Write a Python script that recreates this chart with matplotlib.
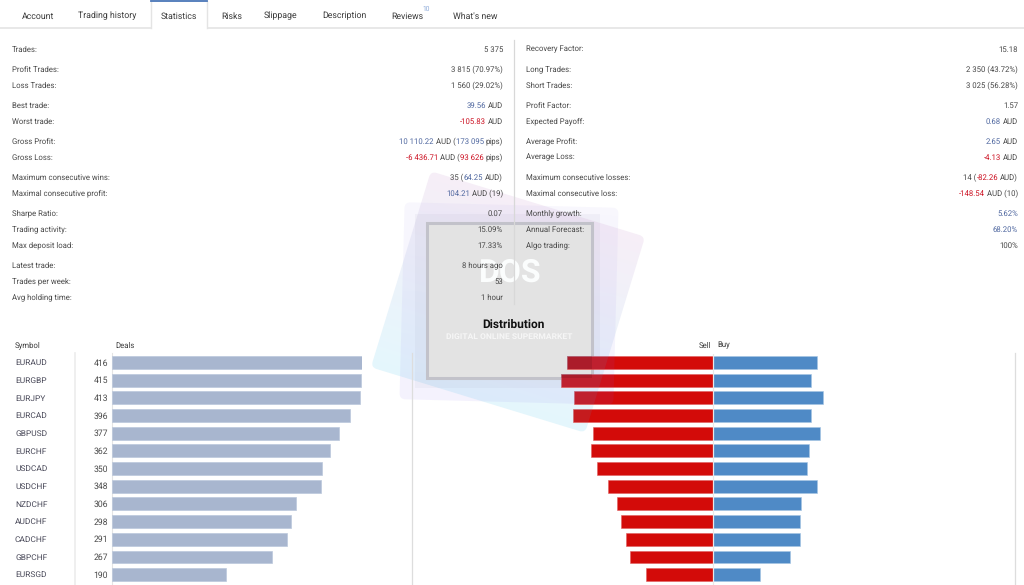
import numpy as np
import matplotlib
matplotlib.use("Agg")
import matplotlib.pyplot as plt
from matplotlib.patches import FancyBboxPatch, Rectangle
from matplotlib.transforms import Affine2D

plt.rcParams['font.family'] = ['Roboto','DejaVu Sans']
plt.rcParams['text.hinting'] = 'no_hinting'

symbols = ["EURAUD","EURGBP","EURJPY","EURCAD","GBPUSD","EURCHF","USDCAD","USDCHF","NZDCHF","AUDCHF","CADCHF","GBPCHF","EURSGD"]
deals = [416,415,413,396,377,362,350,348,306,298,291,267,190]
sell = [244,253,231,234,200,203,194,175,160,153,146,139,112]
buy = [172,162,182,162,177,159,156,173,146,145,145,128,78]
tabs = [("Account",22),("Trading history",78),("Statistics",161),("Risks",221),("Slippage",264),("Description",322),("Reviews",391),("What's new",453)]
row_y_left = [49,69,85,105,121,141,157,177,193,213,229,245,265,281,297]
left_labels = ["Trades:","Profit Trades:","Loss Trades:","Best trade:","Worst trade:","Gross Profit:","Gross Loss:",
    "Maximum consecutive wins:","Maximal consecutive profit:","Sharpe Ratio:","Trading activity:","Max deposit load:",
    "Latest trade:","Trades per week:","Avg holding time:"]
G,B,R = "#484848","#5068a0","#cc1122"
left_values = [[("5 375",G)],[("3 815 (70.97%)",G)],[("1 560 (29.02%)",G)],[("39.56",B),(" AUD",G)],[("-105.83",R),(" AUD",G)],
    [("10 110.22",B),(" AUD (",G),("173 095",B),(" pips)",G)],[("-6 436.71",R),(" AUD (",G),("93 626",R),(" pips)",G)],
    [("35 (",G),("64.25",B),(" AUD)",G)],[("104.21",B),(" AUD (19)",G)],[("0.07",G)],[("15.09%",G)],[("17.33%",G)],
    [("8 hours ago",G)],[("53",G)],[("1 hour",G)]]
right_labels = ["Recovery Factor:","Long Trades:","Short Trades:","Profit Factor:","Expected Payoff:","Average Profit:","Average Loss:",
    "Maximum consecutive losses:","Maximal consecutive loss:","Monthly growth:","Annual Forecast:","Algo trading:"]
right_values = [[("15.18",G)],[("2 350 (43.72%)",G)],[("3 025 (56.28%)",G)],[("1.57",G)],[("0.68",B),(" AUD",G)],
    [("2.65",B),(" AUD",G)],[("-4.13",R),(" AUD",G)],[("14 (",G),("-82.26",R),(" AUD)",G)],[("-148.54",R),(" AUD (10)",G)],
    [("5.62%",B)],[("68.20%",B)],[("100%",G)]]

W,H = 1024,585
fig = plt.figure(figsize=(W/100,H/100),dpi=100,facecolor="white")
def px_ax(z):
    a = fig.add_axes([0,0,1,1],facecolor="none"); a.set_xlim(0,W); a.set_ylim(H,0); a.axis("off"); a.set_zorder(z); return a
bg = px_ax(1); tx = px_ax(10)
FS = 5.55
def T(x,y,s,c=G,ha="left",fs=FS,**k):
    return tx.text(x,y+0.6,s,color=c,ha=ha,va="center",fontsize=fs,**k)

# watermark behind the page content
SQ = (396,199.5,224,205)
LAV = (402,205,214,197)
def grad_box(box,ang,c1,c2,a1,a2,z):
    x,y,w,h = box
    cx,cy = x+w/2,y+h/2
    tr = Affine2D().rotate_deg_around(cx,cy,ang)+bg.transData
    p = FancyBboxPatch((x,y),w,h,boxstyle="round,pad=0,rounding_size=6",fc="none",ec="none",transform=tr,zorder=z)
    bg.add_patch(p)
    t = np.linspace(0,1,64)[:,None,None]
    c1,c2 = np.array(matplotlib.colors.to_rgb(c1)+(a1,)),np.array(matplotlib.colors.to_rgb(c2)+(a2,))
    img = (1-t)*c1[None,None,:]+t*c2[None,None,:]
    im = bg.imshow(img,extent=(x-5,x+w+5,y+h+5,y-5),transform=tr,zorder=z,aspect="auto")
    im.set_clip_path(p)
    return Affine2D().rotate_deg_around(cx,cy,ang)
tr_sq = grad_box(SQ,17,"#f7eef7","#e4f7fd",1,1,0.1)
tr_lav = grad_box(LAV,1.5,"#9c8ce6","#7a60f0",0.07,0.08,0.2)
bg.add_patch(Rectangle((415,214),185,174,fc="#6a6a90",ec="none",alpha=0.05,zorder=0.3))
bg.add_patch(Rectangle((426.5,223),165,155,fc="#e3e3e3",ec="#c2c2ca",lw=2.2,zorder=0.4))
bg.set_xlim(0,W); bg.set_ylim(H,0)
bg.text(510,273,"DOS",color="#fbfdfd",fontsize=23,fontweight="bold",ha="center",va="center",zorder=0.6)
bg.text(509,336.5,"DIGITAL ONLINE SUPERMARKET",color="#f6f6f6",fontsize=6.1,fontweight="bold",ha="center",va="center",zorder=0.6)

# tabs
bg.plot([0,W],[28,28],color="#e4e4e4",lw=1.2,zorder=1)
bg.add_patch(Rectangle((151,0),56,29,fc="white",ec="none",zorder=1.1))
bg.plot([151,151],[1,28],color="#e4e4e4",lw=1,zorder=1.2); bg.plot([207,207],[1,28],color="#e4e4e4",lw=1,zorder=1.2)
bg.plot([151,207],[1,1],color="#4a76b8",lw=1.3,zorder=1.2)
for s,x in tabs:
    T(x,15.5,s,c="#3a3a3a",fs=6.3,zorder=2)
T(422,8,"10",c="#8aa8d8",fs=4.8,zorder=2)

# stats
fig.canvas.draw()
r = fig.canvas.get_renderer()
def segs(xr,y,parts):
    x = xr
    for s,c in reversed(parts):
        t = T(x,y,s.strip(),c=c,ha="right",zorder=2)
        x -= t.get_window_extent(r).width
        if s.startswith(" "): x -= 2
        if s.endswith(" "): x -= 2
for y,l,v in zip(row_y_left,left_labels,left_values):
    T(12,y,l,zorder=2); segs(503,y,v)
for y,l,v in zip(row_y_left,right_labels,right_values):
    T(526,y,l,zorder=2); segs(1018,y,v)
bg.plot([513.5,513.5],[40,304],color="#d8d8d8",lw=0.9,zorder=1.5)

T(513.5,324,"Distribution",c="#111111",ha="center",fs=8.6,fontweight="bold",zorder=3)
T(15,345,"Symbol",c="#3a3a3a",fs=5.6,zorder=2); T(115,345,"Deals",c="#3a3a3a",fs=5.6,zorder=2)
T(711,345,"Sell",c="#3a3a3a",ha="right",fs=5.6,zorder=2); T(717,345,"Buy",c="#3a3a3a",fs=5.6,zorder=2)

# grid lines
bg.plot([74.5,74.5],[353,585],color="#ececec",lw=1.2,zorder=1)
bg.plot([111.5,111.5],[353,585],color="#e4e4e4",lw=0.8,zorder=1)
bg.plot([412,412],[353,585],color="#dddddd",lw=0.9,zorder=1)
bg.plot([1014.5,1014.5],[353,585],color="#dddddd",lw=0.9,zorder=1)

# bars
y0,step = 362.5,17.67
top = y0-step/2
ylim = (((H-y0)/step),-0.5)
height_frac = (H-top)/H
def bar_ax(x0,x1,xlim):
    ax = fig.add_axes([x0/W,0,(x1-x0)/W,height_frac],facecolor="none")
    ax.set_xlim(*xlim); ax.set_ylim(*ylim); ax.axis("off"); ax.set_zorder(2); return ax
ys = np.arange(len(symbols))
a1 = bar_ax(112,362,(0,416))
a1.barh(ys,deals,height=0.72,color="#a8b6cf",ec="#bcc8dc",lw=0.5)
scale = 250/416
a2 = bar_ax(713.3-160,713.3+160,(-160/scale,160/scale))
a2.barh(ys,[-v for v in sell],height=0.72,color="#d30b09",ec="#e06060",lw=0.4)
a2.barh(ys,buy,height=0.72,color="#4f8ac6",ec="#a5c4e2",lw=0.4)
# the watermark tints the sell bars where it crosses them
lav_clip = FancyBboxPatch(LAV[:2],LAV[2],LAV[3],boxstyle="round,pad=0,rounding_size=6",transform=tr_lav+bg.transData)
sq_clip = FancyBboxPatch(SQ[:2],SQ[2],SQ[3],boxstyle="round,pad=0,rounding_size=6",transform=tr_sq+bg.transData)
gray_clip = Rectangle((426.5,223),165,155,transform=bg.transData)
for clip,col,alpha in [(sq_clip,"#4fb0e0",0.10),(lav_clip,"#7a60ff",0.08),(gray_clip,"#000000",0.10)]:
    for b in a2.barh(ys,[-v for v in sell],height=0.72,color=col,alpha=alpha,ec="none"):
        b.set_clip_path(clip)
a2.axvline(0,color="#e8e8e8",lw=0.9)
for i,(s,d) in enumerate(zip(symbols,deals)):
    yy = y0+i*step
    T(15,yy,s,c="#4a4a5a",fs=6.0,zorder=2)
    T(108,yy,str(d),c="#4a4a4a",ha="right",fs=6.2,zorder=2)

fig.savefig("out.png",dpi=100)
